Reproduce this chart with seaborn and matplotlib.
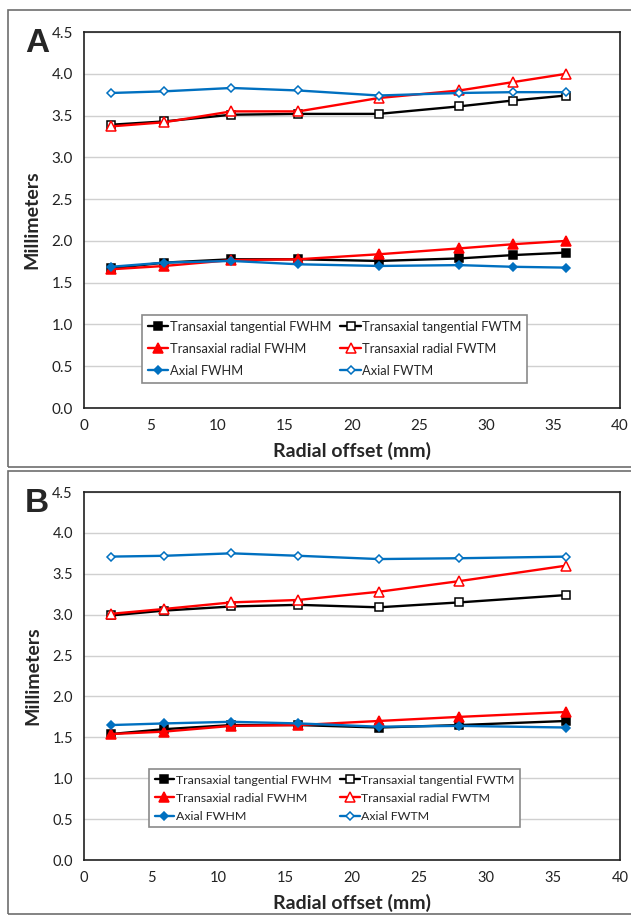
import numpy as np
import pandas as pd
import seaborn as sns
import matplotlib
matplotlib.use("Agg")
import matplotlib.pyplot as plt
from matplotlib.patches import Rectangle

# ---------------- data ----------------
xA = [2, 6, 11, 16, 22, 28, 32, 36]
A_tan_fwhm = [1.67, 1.74, 1.78, 1.78, 1.76, 1.79, 1.83, 1.86]
A_rad_fwhm = [1.66, 1.70, 1.77, 1.78, 1.84, 1.91, 1.96, 2.00]
A_ax_fwhm = [1.69, 1.74, 1.76, 1.72, 1.70, 1.71, 1.69, 1.68]
A_tan_fwtm = [3.39, 3.43, 3.51, 3.52, 3.52, 3.61, 3.68, 3.74]
A_rad_fwtm = [3.37, 3.42, 3.55, 3.55, 3.71, 3.80, 3.90, 4.00]
A_ax_fwtm = [3.77, 3.79, 3.83, 3.80, 3.74, 3.77, 3.78, 3.78]

xB = [2, 6, 11, 16, 22, 28, 36]
B_tan_fwhm = [1.54, 1.60, 1.65, 1.65, 1.62, 1.65, 1.70]
B_rad_fwhm = [1.54, 1.57, 1.64, 1.65, 1.70, 1.75, 1.81]
B_ax_fwhm = [1.65, 1.67, 1.69, 1.67, 1.63, 1.64, 1.62]
B_tan_fwtm = [2.99, 3.05, 3.10, 3.12, 3.09, 3.15, 3.24]
B_rad_fwtm = [3.01, 3.07, 3.15, 3.18, 3.28, 3.41, 3.60]
B_ax_fwtm = [3.71, 3.72, 3.75, 3.72, 3.68, 3.69, 3.71]

series_names = ["Transaxial tangential FWHM", "Transaxial radial FWHM", "Axial FWHM",
                "Transaxial tangential FWTM", "Transaxial radial FWTM", "Axial FWTM"]
x_ticks = [0, 5, 10, 15, 20, 25, 30, 35, 40]
y_ticks = [0.0, 0.5, 1.0, 1.5, 2.0, 2.5, 3.0, 3.5, 4.0, 4.5]
panel_letters = ["A", "B"]

BLACK = "#000000"
RED = "#FF0000"
BLUE = "#0070C0"
styles = [
    dict(color=BLACK, marker="s", markersize=5.5, markerfacecolor=BLACK),
    dict(color=RED, marker="^", markersize=6.5, markerfacecolor=RED),
    dict(color=BLUE, marker="D", markersize=4.2, markerfacecolor=BLUE),
    dict(color=BLACK, marker="s", markersize=5.5, markerfacecolor="white"),
    dict(color=RED, marker="^", markersize=6.5, markerfacecolor="white"),
    dict(color=BLUE, marker="D", markersize=4.2, markerfacecolor="white"),
]

sns.set_theme(style="white")
plt.rcParams["font.family"] = ["Lato", "DejaVu Sans"]

W, H = 631, 917
fig = plt.figure(figsize=(W / 100, H / 100), dpi=100)

def fx(px):
    return px / W

def fy(py):
    return 1 - py / H

panels = [
    (xA, [A_tan_fwhm, A_rad_fwhm, A_ax_fwhm, A_tan_fwtm, A_rad_fwtm, A_ax_fwtm],
     dict(top=32, bottom=408, box=(8, 10, 467), leg=(142, 315), fs=9.3, ls=0.78, tfs=11)),
    (xB, [B_tan_fwhm, B_rad_fwhm, B_ax_fwhm, B_tan_fwtm, B_rad_fwtm, B_ax_fwtm],
     dict(top=492, bottom=860, box=(8, 471, 914), leg=(149, 769), fs=8.9, ls=0.58, tfs=10.5)),
]

left_px, right_px = 84, 620
for (xs, ys, geo), letter in zip(panels, panel_letters):
    # outer panel frame
    bx, btop, bbot = geo["box"]
    fig.patches.append(Rectangle((fx(bx), fy(bbot)), fx(W + 5) - fx(bx), fy(btop) - fy(bbot),
                                 transform=fig.transFigure, fill=False,
                                 edgecolor="#6E6E6E", linewidth=1.2))
    ax = fig.add_axes([fx(left_px), fy(geo["bottom"]), fx(right_px) - fx(left_px),
                       fy(geo["top"]) - fy(geo["bottom"])])
    for name, yv, st in zip(series_names, ys, styles):
        df = pd.DataFrame({"x": xs, "y": yv})
        sns.lineplot(data=df, x="x", y="y", ax=ax, linewidth=1.7, markeredgewidth=1.1,
                     markeredgecolor=st["color"], label=name, **st)
    ax.set_xlim(0, 40)
    ax.set_ylim(0, 4.5)
    ax.set_xticks(x_ticks)
    ax.set_yticks(y_ticks)
    ax.set_xticklabels([str(t) for t in x_ticks], fontsize=geo["tfs"], color="#222222")
    ax.set_yticklabels([f"{t:.1f}" for t in y_ticks], fontsize=geo["tfs"], color="#222222")
    ax.grid(axis="y", color="#D0D0D0", linewidth=1.0)
    ax.grid(axis="x", visible=False)
    ax.set_axisbelow(True)
    for sp in ax.spines.values():
        sp.set_visible(True)
        sp.set_color("#202020")
        sp.set_linewidth(1.2)
    ax.tick_params(axis="both", which="major", direction="out", length=5, width=1,
                   color="#808080", pad=3)
    ax.set_xlabel("Radial offset (mm)", fontsize=14, fontweight="bold", labelpad=6)
    ax.set_ylabel("Millimeters", fontsize=14, fontweight="bold", labelpad=8)
    # legend
    l0, t0 = geo["leg"]
    hs, ls = ax.get_legend_handles_labels()
    leg = ax.legend(hs, ls, ncol=2, loc="upper left",
                    bbox_to_anchor=((l0 - left_px) / (right_px - left_px),
                                    (geo["bottom"] - t0) / (geo["bottom"] - geo["top"])),
                    frameon=True, fancybox=False, edgecolor="#8A8A8A", framealpha=1,
                    fontsize=geo["fs"], handlelength=1.6, handletextpad=0.1,
                    columnspacing=0.7, labelspacing=geo["ls"], borderpad=0.45,
                    borderaxespad=0)
    leg.get_frame().set_linewidth(1.2)
    fig.text(fx(25), fy(geo["top"] + 11), letter, fontsize=24, fontweight="bold",
             family=["Liberation Sans", "DejaVu Sans"], ha="left", va="center")

fig.savefig("out.png", dpi=100)
